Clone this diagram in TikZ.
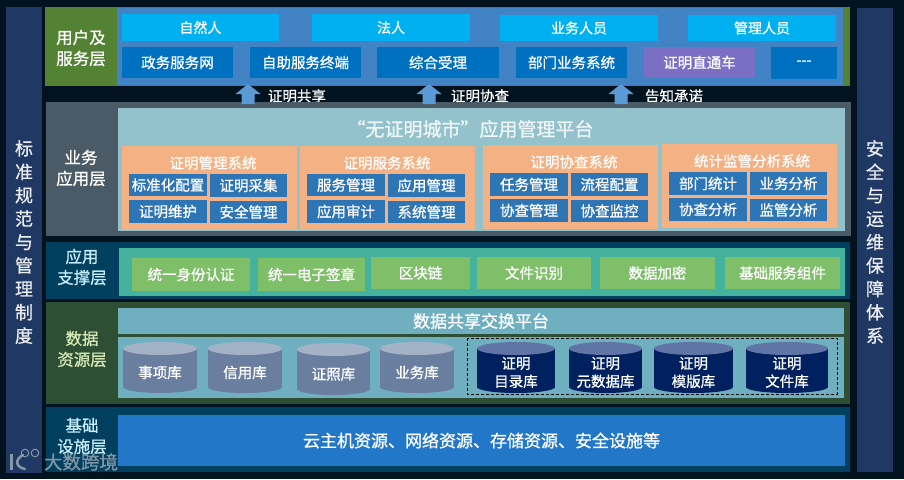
\documentclass[tikz,border=0pt]{standalone}
\usepackage{fontspec}
\setmainfont{Noto Sans CJK SC}[RawFeature={embolden=0.8}]
\definecolor{bgc}{HTML}{03121F}
\definecolor{sidebar}{HTML}{1F3864}
\definecolor{ugreen}{HTML}{548235}
\definecolor{ublue}{HTML}{4283C6}
\definecolor{cyanbox}{HTML}{00B0F0}
\definecolor{deepblue}{HTML}{0070C0}
\definecolor{purplebox}{HTML}{7A6FC4}
\definecolor{arrowc}{HTML}{5B9BD5}
\definecolor{bizlayer}{HTML}{4A5A66}
\definecolor{bizinner}{HTML}{93C2CC}
\definecolor{orangebox}{HTML}{F4B183}
\definecolor{modbox}{HTML}{2E75B6}
\definecolor{navylayer}{HTML}{013F5F}
\definecolor{tealc}{HTML}{45B29D}
\definecolor{greenbox}{HTML}{7FBF6A}
\definecolor{datalayer}{HTML}{2F4F34}
\definecolor{dataplat}{HTML}{6FAFC0}
\definecolor{infra}{HTML}{2277C9}
\definecolor{cylg}{HTML}{6A7FA0}
\definecolor{cylgt}{HTML}{A4B2C8}
\definecolor{cyld}{HTML}{002060}
\definecolor{cyldt}{HTML}{6075A5}
\definecolor{wmgrey}{HTML}{9AA7B2}
\definecolor{palegreen}{HTML}{D5E8B5}
\definecolor{palecyan}{HTML}{C5ECF7}
\tikzset{
  x=1pt,y=-1pt,
  block/.style={inner sep=0pt,outer sep=0pt,text=white,align=center,font=\fontsize{14.5}{18}\selectfont},
  plain/.style={font=\fontsize{14}{18}\selectfont},
  midtext/.style={font=\fontsize{17}{20}\selectfont},
  titletext/.style={block,font=\fontsize{19}{22}\selectfont,text=white!85!bizinner},
  laylabel/.style={inner sep=0pt,outer sep=0pt,align=center,font=\fontsize{16.5}{21}\selectfont},
  sidetext/.style={inner sep=0pt,outer sep=0pt,text=white!90!sidebar,align=center,font=\fontsize{18}{23.4}\selectfont},
  arrowlabel/.style={inner sep=0pt,outer sep=0pt,text=white,font=\fontsize{14.5}{17}\selectfont},
}
% [options] name, x1,y1,x2,y2, fill, text
\newcommand\bx[8][]{\node[block,fill=#7,minimum width={(#5-#3)*1pt},minimum height={(#6-#4)*1pt},#1] (#2) at ({(#3+#5)/2},{(#4+#6)/2}) {#8};}
% cylinder: name,x1,y1,x2,y2,body,top,text
\newcommand\cyl[8]{%
  \fill[#6] ({(#2+#4)/2},{#5-6}) ellipse ({(#4-#2)/2} and 6);
  \fill[#6] (#2,{#3+6.5}) rectangle (#4,{#5-6});
  \fill[#7] ({(#2+#4)/2},{#3+6.5}) ellipse ({(#4-#2)/2} and 6.5);
  \node[block] (#1) at ({(#2+#4)/2},{(#3+#5)/2+5}) {#8};}
% block arrow pointing up: centre x
\newcommand\uparr[1]{\fill[arrowc] (#1,84) -- ({#1+12.5},94) -- ({#1+6.5},94) -- ({#1+6.5},104) -- ({#1-6.5},104) -- ({#1-6.5},94) -- ({#1-12.5},94) -- cycle;}
\begin{document}
\begin{tikzpicture}
\useasboundingbox (0,0) rectangle (904,479);
\fill[bgc] (0,0) rectangle (904,479);
% side bars
\bx{leftbar}{6}{7}{42}{473}{sidebar}{}
\bx{rightbar}{857}{8}{893}{472}{sidebar}{}
\node[sidetext] (lefttext) at (24,242) {标\\准\\规\\范\\与\\管\\理\\制\\度};
\node[sidetext] (righttext) at (875,242) {安\\全\\与\\运\\维\\保\\障\\体\\系};
% user layer
\bx{userlayer}{45}{7}{850}{86}{ugreen}{}
\bx{userinner}{117}{8}{843}{85}{ublue}{}
\node[laylabel,text=white] (userlabel) at (81,48) {用户及\\服务层};
\bx[plain]{u1}{122}{14}{279}{41}{cyanbox}{自然人}
\bx[plain]{u2}{312}{14}{470}{41}{cyanbox}{法人}
\bx[plain]{u3}{500}{15}{658}{41}{cyanbox}{业务人员}
\bx[plain]{u4}{688}{15}{836}{41}{cyanbox}{管理人员}
\bx{s1}{122}{47}{233}{78}{deepblue}{政务服务网}
\bx{s2}{250}{47}{361}{78}{deepblue}{自助服务终端}
\bx{s3}{377}{47}{499}{78}{deepblue}{综合受理}
\bx{s4}{516}{47}{627}{78}{deepblue}{部门业务系统}
\bx{s5}{644}{47}{755}{78}{purplebox}{证明直通车}
\bx{s6}{771}{47}{837}{79}{deepblue}{-{}-{}-}
% arrow labels (cut by the layer below)
\node[arrowlabel] (al1) at (297,96) {证明共享};
\node[arrowlabel] (al2) at (480,96) {证明协查};
\node[arrowlabel] (al3) at (674,96) {告知承诺};
% business layer
\bx{bizlayer}{46}{102}{851}{236}{bizlayer}{}
\bx{bizinner}{118}{108}{845}{231}{bizinner}{}
\node[laylabel,text=white] (bizlabel) at (81,168) {业务\\应用层};
\node[titletext] (biztitle) at (470,129) {“无证明城市”应用管理平台};
% system 1
\bx{o1}{122}{146}{297}{230}{orangebox}{}
\node[block] (o1t) at (213,163) {证明管理系统};
\bx{m11}{129}{174}{207}{196}{modbox}{标准化配置}
\bx{m12}{210}{174}{287}{197}{modbox}{证明采集}
\bx{m13}{129}{200}{207}{223}{modbox}{证明维护}
\bx{m14}{210}{201}{287}{223}{modbox}{安全管理}
% system 2
\bx{o2}{300}{146}{475}{230}{orangebox}{}
\node[block] (o2t) at (387,163) {证明服务系统};
\bx{m21}{307}{174}{385}{196}{modbox}{服务管理}
\bx{m22}{388}{174}{465}{197}{modbox}{应用管理}
\bx{m23}{307}{200}{385}{223}{modbox}{应用审计}
\bx{m24}{388}{201}{465}{223}{modbox}{系统管理}
% system 3
\bx{o3}{483}{145}{658}{229}{orangebox}{}
\node[block] (o3t) at (574,162) {证明协查系统};
\bx{m31}{490}{173}{568}{196}{modbox}{任务管理}
\bx{m32}{571}{173}{648}{196}{modbox}{流程配置}
\bx{m33}{490}{199}{568}{222}{modbox}{协查管理}
\bx{m34}{571}{200}{648}{222}{modbox}{协查监控}
% system 4
\bx{o4}{662}{144}{837}{228}{orangebox}{}
\node[block] (o4t) at (752,161) {统计监管分析系统};
\bx{m41}{669}{172}{747}{195}{modbox}{部门统计}
\bx{m42}{750}{172}{827}{195}{modbox}{业务分析}
\bx{m43}{669}{198}{747}{221}{modbox}{协查分析}
\bx{m44}{750}{199}{827}{221}{modbox}{监管分析}
% arrows
\uparr{248}
\uparr{429}
\uparr{621}
% support layer
\bx{suplayer}{46}{242}{850}{299}{navylayer}{}
\bx{supinner}{119}{248}{845}{296}{tealc}{}
\node[laylabel,text=palecyan] (suplabel) at (82,267) {应用\\支撑层};
\bx{g1}{132}{258}{250}{291}{greenbox}{统一身份认证}
\bx{g2}{258}{258}{365}{291}{greenbox}{统一电子签章}
\bx{g3}{371}{257}{470}{289}{greenbox}{区块链}
\bx{g4}{477}{257}{591}{289}{greenbox}{文件识别}
\bx{g5}{600}{257}{715}{289}{greenbox}{数据加密}
\bx{g6}{725}{257}{840}{289}{greenbox}{基础服务组件}
% data layer
\bx{datalayer}{46}{302}{850}{404}{datalayer}{}
\bx[midtext]{platform}{118}{308}{844}{334}{dataplat}{数据共享交换平台}
\bx{store}{118}{337}{844}{398}{dataplat}{}
\node[laylabel,text=palegreen] (datalabel) at (82,349) {数据\\资源层};
\cyl{c1}{123}{342}{197}{393}{cylg}{cylgt}{事项库}
\cyl{c2}{208}{342}{282}{393}{cylg}{cylgt}{信用库}
\cyl{c3}{297}{343}{370}{395}{cylg}{cylgt}{证照库}
\cyl{c4}{380}{342}{454}{393}{cylg}{cylgt}{业务库}
\draw[black,densely dashed,line width=0.7pt] (467,338) rectangle (837,394);
\cyl{d1}{477}{342}{555}{393}{cyld}{cyldt}{证明\\目录库}
\cyl{d2}{569}{342}{642}{393}{cyld}{cyldt}{证明\\元数据库}
\cyl{d3}{654}{342}{733}{393}{cyld}{cyldt}{证明\\模版库}
\cyl{d4}{746}{342}{828}{393}{cyld}{cyldt}{证明\\文件库}
% infrastructure
\bx{inflayer}{46}{407}{850}{472}{navylayer}{}
\bx[midtext]{infinner}{118}{415}{845}{466}{infra}{云主机资源、网络资源、存储资源、安全设施等}
\node[laylabel,text=palecyan] (inflabel) at (82,436) {基础\\设施层};
% watermark
\node[inner sep=0pt,text=wmgrey,opacity=.8,font=\fontsize{18.5}{20}\selectfont] (wm) at (81,462) {大数跨境};
\begin{scope}[opacity=.85]
\draw[wmgrey,line width=3pt] (11.5,454) -- (11.5,470);
\draw[wmgrey,line width=2.5pt,line cap=round] (23,455) .. controls (15,459) and (15,467) .. (25,469);
\draw[wmgrey,line width=1pt] (25,453) circle (3.8);
\draw[wmgrey,line width=1pt] (35,453) circle (3.8);
\end{scope}
\end{tikzpicture}
\end{document}
